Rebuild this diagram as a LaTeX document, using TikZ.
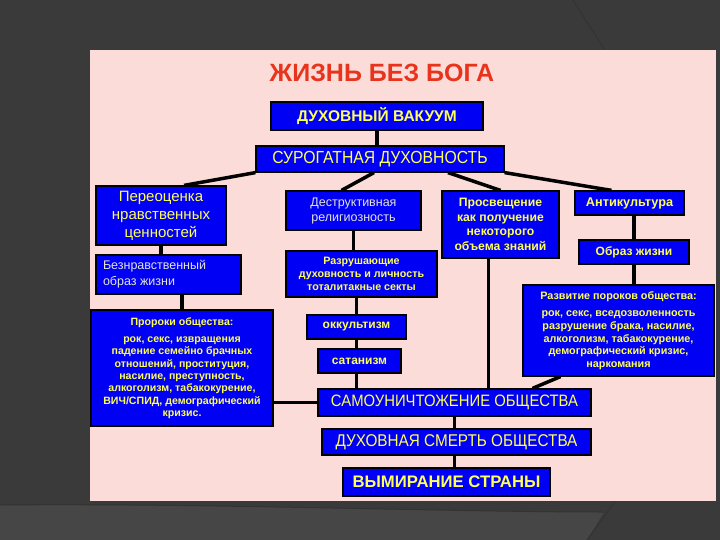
\documentclass[tikz,border=0pt]{standalone}
\usepackage{fontspec}
\setmainfont{Liberation Sans}
\newfontfamily\narrowfont[FakeStretch=0.9]{Liberation Sans}
\definecolor{bgdark}{HTML}{3A3A3A}
\definecolor{bglow}{HTML}{464646}
\definecolor{pinkbg}{HTML}{FCDCD8}
\definecolor{boxblue}{HTML}{0000F4}
\definecolor{ylw}{HTML}{FFFF5A}
\definecolor{pale}{HTML}{E4E4D4}
\definecolor{titlered}{HTML}{E8341C}
\begin{document}
\begin{tikzpicture}[x=1pt,y=-1pt,
  box/.style={draw=black, line width=1.2pt, fill=boxblue, inner sep=0pt, text=ylw, align=center,
              font=\bfseries\fontsize{10.5}{14}\selectfont},
  link/.style={line width=3.5pt, black}]
% background
\useasboundingbox (0,0) rectangle (720,540);
\fill[bgdark] (0,0) rectangle (720,540);
\fill[bglow] (0,505) .. controls (200,503) and (450,512) .. (604,512) -- (587,540) -- (0,540) -- cycle;
\draw[black!80, line width=1pt] (0,505) .. controls (200,503) and (450,512) .. (604,512);
\draw[black!80, line width=1pt] (573,0) -- (606,52);
\draw[black!80, line width=1pt] (616,500) -- (587,540);
\fill[pinkbg] (90,50) rectangle (716,501);
% title
\node[text=titlered, font=\bfseries\fontsize{25}{28}\selectfont] (title) at (382,72.5) {ЖИЗНЬ БЕЗ БОГА};
% boxes
\node[box, minimum width=212pt, minimum height=28pt, font=\bfseries\fontsize{15.5}{18}\selectfont] (vac) at (377,116) {ДУХОВНЫЙ ВАКУУМ};
\node[box, minimum width=248pt, minimum height=26pt, font=\narrowfont\fontsize{17.5}{20}\selectfont] (sur) at (380,159) {СУРОГАТНАЯ ДУХОВНОСТЬ};
\node[box, minimum width=130pt, minimum height=59pt, font=\fontsize{15}{18}\selectfont] (per) at (161,215.5) {Переоценка\\нравственных\\ценностей};
\node[box, minimum width=135pt, minimum height=39pt, text=pale, font=\fontsize{12.5}{15}\selectfont] (des) at (353.5,210.5) {Деструктивная\\религиозность};
\node[box, minimum width=117pt, minimum height=67pt, font=\bfseries\fontsize{12.2}{14.7}\selectfont] (pro) at (500.5,224.5) {Просвещение\\как получение\\некоторого\\объема знаний};
\node[box, minimum width=109pt, minimum height=24pt, font=\bfseries\fontsize{12.7}{14}\selectfont] (ant) at (629.5,203) {Антикультура};
\node[box, minimum width=145pt, minimum height=39pt, text=pale, align=left, font=\fontsize{12.5}{16}\selectfont] (bez) at (168.5,274.5) {\makebox[131pt][l]{Безнравственный}\\\makebox[131pt][l]{образ жизни}};
\node[box, minimum width=151pt, minimum height=46pt, font=\bfseries\fontsize{10.7}{12.7}\selectfont] (raz) at (361.5,274) {Разрушающие\\духовность и личность\\тоталитакные секты};
\node[box, minimum width=110pt, minimum height=24pt, font=\bfseries\fontsize{12}{14}\selectfont] (obr) at (634,252) {Образ жизни};
\node[box, minimum width=182pt, minimum height=116pt, font=\bfseries\fontsize{10.6}{12.3}\selectfont] (prk) at (182,368) {Пророки общества:\\[5pt]рок, секс, извращения\\падение семейно брачных\\отношений, проституция,\\насилие, преступность,\\алкоголизм, табакокурение,\\ВИЧ/СПИД, демографический\\кризис.};
\node[box, minimum width=99pt, minimum height=24pt, font=\bfseries\fontsize{12}{14}\selectfont] (okk) at (356.5,327) {оккультизм};
\node[box, minimum width=83pt, minimum height=24pt, font=\bfseries\fontsize{12}{14}\selectfont] (sat) at (359.5,361) {сатанизм};
\node[box, minimum width=191pt, minimum height=91pt, font=\bfseries\fontsize{10.8}{12.7}\selectfont] (rzv) at (618.5,330.5) {Развитие пороков общества:\\[5pt]рок, секс, вседозволенность\\разрушение брака, насилие,\\алкоголизм, табакокурение,\\демографический кризис,\\наркомания};
\node[box, minimum width=273pt, minimum height=27pt, font=\narrowfont\fontsize{16.5}{18}\selectfont] (sam) at (454.5,402.5) {САМОУНИЧТОЖЕНИЕ ОБЩЕСТВА};
\node[box, minimum width=269pt, minimum height=26pt, font=\narrowfont\fontsize{17}{18}\selectfont] (smr) at (456.5,442) {ДУХОВНАЯ СМЕРТЬ ОБЩЕСТВА};
\node[box, minimum width=207pt, minimum height=28pt, font=\bfseries\fontsize{16.7}{18}\selectfont] (vym) at (446.5,482) {ВЫМИРАНИЕ СТРАНЫ};
% connectors
\draw[link] (vac.south) -- (vac.south |- sur.north);
\draw[link] (sur.south west) -- ([xshift=23pt]per.north);
\draw[link] ([xshift=-6pt]sur.south) -- ([xshift=-12pt]des.north);
\draw[link] ([xshift=68pt]sur.south) -- (pro.north);
\draw[link] (sur.south east) -- ([xshift=-18pt]ant.north);
\draw[link] (per.south) -- (per.south |- bez.north);
\draw[link] (prk.north |- bez.south) -- (prk.north);
\draw[link] (des.south) -- (des.south |- raz.north);
\draw[link] (okk.north |- raz.south) -- (okk.north);
\draw[link] (okk.south) -- (okk.south |- sat.north);
\draw[link] (okk.south |- sat.south) -- (okk.south |- sam.north);
\draw[link] ([xshift=-12pt]pro.south) -- ([xshift=-12pt]pro.south |- sam.north);
\draw[link] (obr.north |- ant.south) -- (obr.north);
\draw[link] (obr.south) -- (obr.south |- rzv.north);
\draw[link] ([xshift=-58pt]rzv.south) -- ([xshift=78pt]sam.north);
\draw[link] (sam.west) -- (sam.west -| prk.east);
\draw[link] (sam.south) -- (sam.south |- smr.north);
\draw[link] (sam.south |- smr.south) -- (sam.south |- vym.north);
\end{tikzpicture}
\end{document}
